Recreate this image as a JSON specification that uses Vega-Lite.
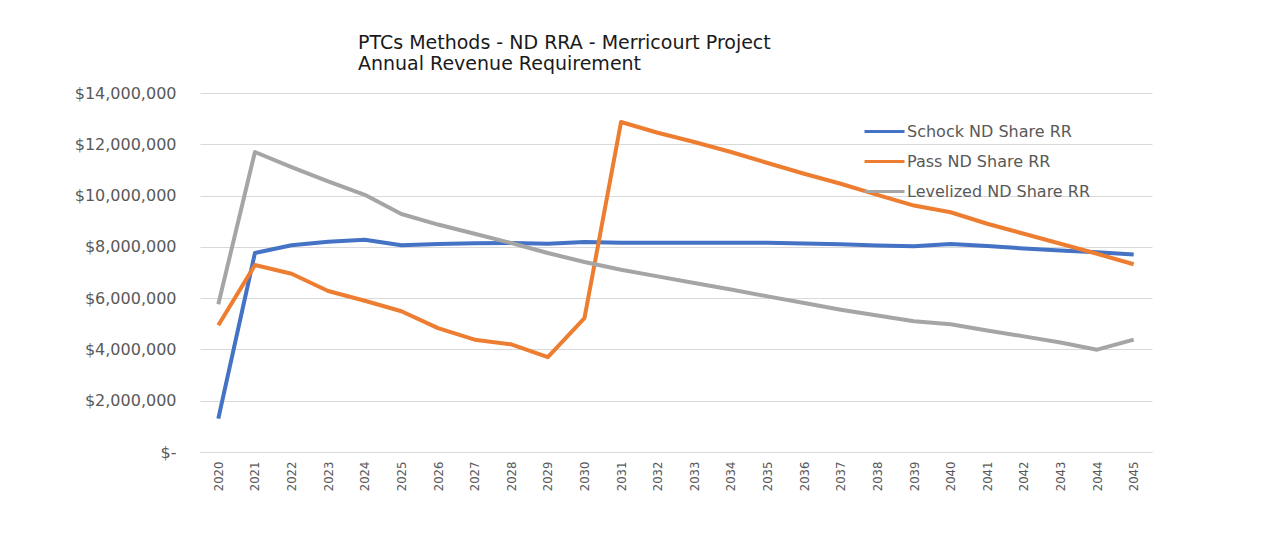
{
  "$schema": "https://vega.github.io/schema/vega-lite/v6.json",
  "width": 952,
  "height": 359,
  "autosize": {"type": "none"},
  "padding": {"left": 200, "top": 93, "right": 118, "bottom": 86},
  "background": "white",
  "title": {
    "text": ["PTCs Methods - ND RRA - Merricourt Project", "Annual Revenue Requirement"],
    "anchor": "start",
    "frame": "group",
    "dx": 158,
    "offset": 11,
    "font": "DejaVu Sans",
    "fontSize": 19,
    "fontWeight": "normal",
    "color": "#1a1a1a",
    "lineHeight": 21
  },
  "data": {
    "values": [
      {"year": "2020", "Schock ND Share RR": 1300000, "Pass ND Share RR": 4940000, "Levelized ND Share RR": 5760000},
      {"year": "2021", "Schock ND Share RR": 7760000, "Pass ND Share RR": 7290000, "Levelized ND Share RR": 11700000},
      {"year": "2022", "Schock ND Share RR": 8060000, "Pass ND Share RR": 6950000, "Levelized ND Share RR": 11110000},
      {"year": "2023", "Schock ND Share RR": 8200000, "Pass ND Share RR": 6280000, "Levelized ND Share RR": 10550000},
      {"year": "2024", "Schock ND Share RR": 8280000, "Pass ND Share RR": 5900000, "Levelized ND Share RR": 10030000},
      {"year": "2025", "Schock ND Share RR": 8060000, "Pass ND Share RR": 5490000, "Levelized ND Share RR": 9280000},
      {"year": "2026", "Schock ND Share RR": 8110000, "Pass ND Share RR": 4830000, "Levelized ND Share RR": 8870000},
      {"year": "2027", "Schock ND Share RR": 8140000, "Pass ND Share RR": 4380000, "Levelized ND Share RR": 8510000},
      {"year": "2028", "Schock ND Share RR": 8150000, "Pass ND Share RR": 4200000, "Levelized ND Share RR": 8150000},
      {"year": "2029", "Schock ND Share RR": 8120000, "Pass ND Share RR": 3700000, "Levelized ND Share RR": 7760000},
      {"year": "2030", "Schock ND Share RR": 8190000, "Pass ND Share RR": 5220000, "Levelized ND Share RR": 7410000},
      {"year": "2031", "Schock ND Share RR": 8160000, "Pass ND Share RR": 12870000, "Levelized ND Share RR": 7110000},
      {"year": "2032", "Schock ND Share RR": 8160000, "Pass ND Share RR": 12450000, "Levelized ND Share RR": 6850000},
      {"year": "2033", "Schock ND Share RR": 8160000, "Pass ND Share RR": 12090000, "Levelized ND Share RR": 6590000},
      {"year": "2034", "Schock ND Share RR": 8160000, "Pass ND Share RR": 11700000, "Levelized ND Share RR": 6340000},
      {"year": "2035", "Schock ND Share RR": 8160000, "Pass ND Share RR": 11270000, "Levelized ND Share RR": 6070000},
      {"year": "2036", "Schock ND Share RR": 8130000, "Pass ND Share RR": 10850000, "Levelized ND Share RR": 5810000},
      {"year": "2037", "Schock ND Share RR": 8100000, "Pass ND Share RR": 10460000, "Levelized ND Share RR": 5550000},
      {"year": "2038", "Schock ND Share RR": 8050000, "Pass ND Share RR": 10030000, "Levelized ND Share RR": 5320000},
      {"year": "2039", "Schock ND Share RR": 8020000, "Pass ND Share RR": 9610000, "Levelized ND Share RR": 5100000},
      {"year": "2040", "Schock ND Share RR": 8110000, "Pass ND Share RR": 9350000, "Levelized ND Share RR": 4980000},
      {"year": "2041", "Schock ND Share RR": 8030000, "Pass ND Share RR": 8900000, "Levelized ND Share RR": 4740000},
      {"year": "2042", "Schock ND Share RR": 7940000, "Pass ND Share RR": 8510000, "Levelized ND Share RR": 4510000},
      {"year": "2043", "Schock ND Share RR": 7860000, "Pass ND Share RR": 8120000, "Levelized ND Share RR": 4270000},
      {"year": "2044", "Schock ND Share RR": 7790000, "Pass ND Share RR": 7730000, "Levelized ND Share RR": 3990000},
      {"year": "2045", "Schock ND Share RR": 7700000, "Pass ND Share RR": 7320000, "Levelized ND Share RR": 4380000}
    ]
  },
  "transform": [
    {"fold": ["Schock ND Share RR", "Pass ND Share RR", "Levelized ND Share RR"], "as": ["series", "value"]}
  ],
  "mark": {"type": "line", "strokeWidth": 4, "strokeJoin": "round"},
  "encoding": {
    "x": {
      "field": "year",
      "type": "ordinal",
      "scale": {"type": "point", "padding": 0.5},
      "axis": {
        "title": null,
        "labelAngle": -90,
        "labelFont": "DejaVu Sans Condensed",
        "labelFontSize": 13,
        "labelColor": "#595959",
        "labelPadding": 9,
        "ticks": false,
        "domain": true,
        "domainColor": "#d9d9d9",
        "domainWidth": 1,
        "grid": false
      }
    },
    "y": {
      "field": "value",
      "type": "quantitative",
      "scale": {"domain": [0, 14000000], "nice": false},
      "axis": {
        "title": null,
        "values": [0, 2000000, 4000000, 6000000, 8000000, 10000000, 12000000, 14000000],
        "labelExpr": "datum.value == 0 ? '$-' : '$' + format(datum.value, ',')",
        "labelFont": "DejaVu Sans",
        "labelFontSize": 16,
        "labelColor": "#595959",
        "labelPadding": 24,
        "ticks": false,
        "domain": false,
        "grid": true,
        "gridColor": "#d9d9d9",
        "gridWidth": 1
      }
    },
    "color": {
      "field": "series",
      "type": "nominal",
      "scale": {
        "domain": ["Schock ND Share RR", "Pass ND Share RR", "Levelized ND Share RR"],
        "range": ["#4472c4", "#ed7d31", "#a5a5a5"]
      },
      "legend": {
        "title": null,
        "orient": "none",
        "legendX": 663,
        "legendY": 17,
        "symbolType": "stroke",
        "symbolSize": 1600,
        "symbolStrokeWidth": 3,
        "labelFont": "DejaVu Sans",
        "labelFontSize": 16,
        "labelColor": "#595959",
        "labelOffset": 1,
        "rowPadding": 0,
        "labelLimit": 400
      }
    }
  },
  "config": {
    "view": {"stroke": null}
  }
}
